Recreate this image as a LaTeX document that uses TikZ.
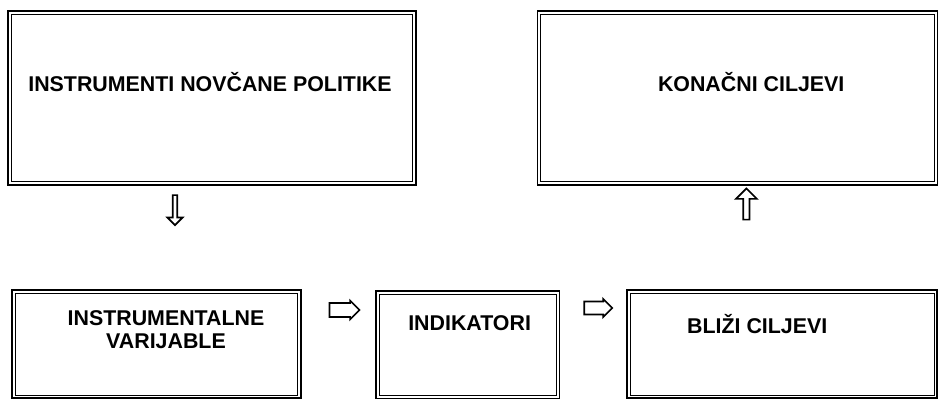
\documentclass[tikz,border=0pt]{standalone}
\usepackage{fontspec}
\setmainfont{Liberation Sans}
\usetikzlibrary{shapes.arrows}
\begin{document}
\begin{tikzpicture}[
    box/.style={draw, line width=1.1pt, inner sep=0pt},
    lbl/.style={font=\bfseries\fontsize{15.2}{16.5}\selectfont, align=center, inner sep=0pt},
    harrow/.style={single arrow, draw, line width=1.2pt, inner xsep=0pt, single arrow head extend=.05cm, single arrow head indent=0pt}
]
\useasboundingbox (0,0) rectangle (23.5,10);

\node[box, minimum width=10.2cm, minimum height=4.35cm] (instr) at (5.3,7.55) {};
\node[box, minimum width=10cm, minimum height=4.35cm] (konacni) at (18.44,7.55) {};
\node[box, minimum width=7.23cm, minimum height=2.71cm] (varij) at (3.91,1.4) {};
\node[box, minimum width=4.59cm, minimum height=2.69cm] (indik) at (11.69,1.385) {};
\node[box, minimum width=7.76cm, minimum height=2.71cm] (blizi) at (19.55,1.4) {};
\foreach \b in {instr,konacni,varij,indik,blizi}
{
    \draw[line width=.6pt] ([shift={(.1,.1)}]\b.south west) rectangle ([shift={(-.1,-.1)}]\b.north east);
}

\node[lbl] (tinstr) at (5.25,7.95) {INSTRUMENTI NOVČANE POLITIKE};
\node[lbl] (tkonacni) at (18.78,7.95) {KONAČNI CILJEVI};
\node[lbl] (tvarij) at (4.15,1.75) {INSTRUMENTALNE\\VARIJABLE};
\node[lbl] (tindik) at (11.74,1.93) {INDIKATORI};
\node[lbl] (tblizi) at (18.93,1.9) {BLIŽI CILJEVI};

\node[harrow, shape border rotate=270, minimum height=.75cm, minimum width=.38cm, inner ysep=.07cm] (adown) at (4.375,4.775) {};
\node[harrow, shape border rotate=90, minimum height=.78cm, minimum width=.52cm, inner ysep=.11cm] (aup) at (18.66,4.86) {};
\node[harrow, minimum height=.75cm, minimum width=.47cm, inner ysep=.125cm] (aright) at (8.525,2.25) {};
\node[harrow, minimum height=.7cm, minimum width=.45cm, inner ysep=.11cm] (aright2) at (14.875,2.3) {};
\end{tikzpicture}
\end{document}
